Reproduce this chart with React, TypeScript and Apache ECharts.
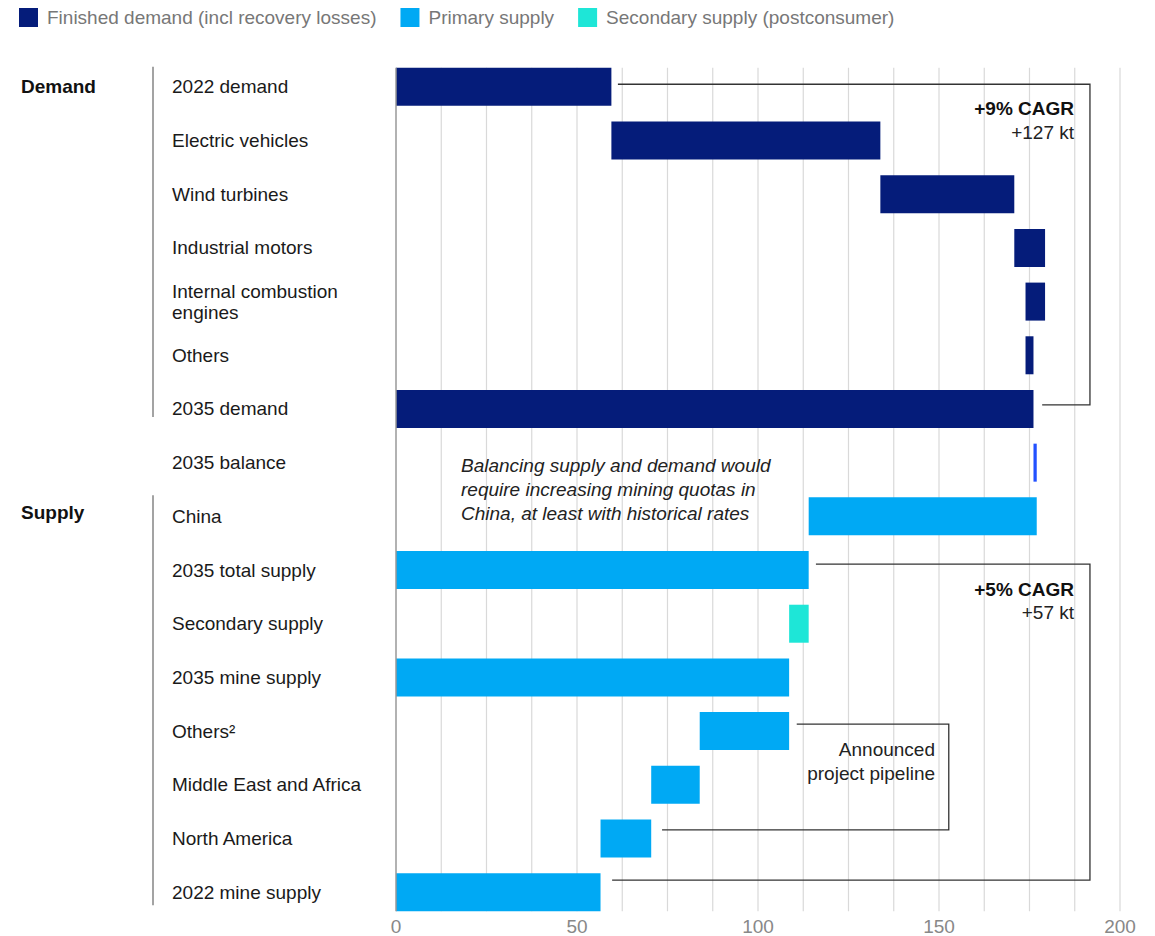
import React, { useEffect, useRef } from "react";
import * as echarts from "echarts";

const FONT = "'Liberation Sans', Arial, sans-serif";

const categories = [
  "2022 demand",
  "Electric vehicles",
  "Wind turbines",
  "Industrial motors",
  "Internal combustion\nengines",
  "Others",
  "2035 demand",
  "2035 balance",
  "China",
  "2035 total supply",
  "Secondary supply",
  "2035 mine supply",
  "Others²",
  "Middle East and Africa",
  "North America",
  "2022 mine supply",
];

// start and end of each waterfall bar (kt)
const barStart = [0, 59.5, 133.8, 170.8, 173.9, 173.9, 0, 176.1, 114.0, 0, 108.6, 0, 83.9, 70.5, 56.5, 0];
const barEnd = [59.5, 133.8, 170.8, 179.3, 179.3, 176.1, 176.1, 177.0, 177.0, 114.0, 114.0, 108.6, 108.6, 83.9, 70.5, 56.5];
const barKind = [
  "demand", "demand", "demand", "demand", "demand", "demand", "demand",
  "balance",
  "primary", "primary", "secondary", "primary", "primary", "primary", "primary", "primary",
];

const xTicks = [0, 50, 100, 150, 200];
const legendNames = [
  "Finished demand (incl recovery losses)",
  "Primary supply",
  "Secondary supply (postconsumer)",
];

const COLORS = {
  demand: "#051C7A",
  primary: "#00A9F4",
  secondary: "#1EE6D7",
  balance: "#2251FF",
};

export default function App() {
  const ref = useRef<HTMLDivElement>(null);

  useEffect(() => {
    if (!ref.current) return;
    const chart = echarts.init(ref.current, undefined, { renderer: "svg" });

    const seriesFor = (kinds: string[]) =>
      barKind.map((k, i) => {
        if (!kinds.includes(k)) return "-";
        const v = +(barEnd[i] - barStart[i]).toFixed(2);
        if (k === "balance") return { value: v, itemStyle: { color: COLORS.balance } };
        return v;
      });

    chart.setOption({
      animation: false,
      legend: {
        data: legendNames,
        left: 19,
        top: 8,
        padding: 0,
        icon: "rect",
        itemWidth: 19,
        itemHeight: 19,
        itemGap: 24,
        selectedMode: false,
        textStyle: { color: "#777", fontSize: 19, fontFamily: FONT, padding: [0, 0, 0, 4] },
      },
      grid: { left: 396, width: 724, top: 60, height: 861 },
      xAxis: {
        type: "value",
        min: xTicks[0],
        max: xTicks[xTicks.length - 1],
        interval: 50,
        axisLine: { show: false },
        axisTick: { show: false },
        splitLine: { show: false },
        axisLabel: { color: "#888", fontSize: 19, fontFamily: FONT, margin: -2 },
      },
      yAxis: {
        type: "category",
        data: categories,
        inverse: true,
        axisLine: { show: false },
        axisTick: { show: false },
        axisLabel: {
          align: "left",
          margin: 224,
          color: "#1a1a1a",
          fontSize: 19,
          lineHeight: 21,
          fontFamily: FONT,
        },
      },
      series: [
        {
          name: "base",
          type: "bar",
          stack: "wf",
          barWidth: 38,
          silent: true,
          itemStyle: { color: "transparent" },
          data: barStart,
        },
        {
          name: legendNames[0],
          type: "bar",
          stack: "wf",
          barWidth: 38,
          itemStyle: { color: COLORS.demand },
          data: seriesFor(["demand", "balance"]),
        },
        {
          name: legendNames[1],
          type: "bar",
          stack: "wf",
          barWidth: 38,
          itemStyle: { color: COLORS.primary },
          data: seriesFor(["primary"]),
        },
        {
          name: legendNames[2],
          type: "bar",
          stack: "wf",
          barWidth: 38,
          itemStyle: { color: COLORS.secondary },
          data: seriesFor(["secondary"]),
        },
      ],
    });

    const px = (xv: number, row: number): number[] =>
      chart.convertToPixel({ gridIndex: 0 }, [xv, row]) as number[];
    const rowY = (row: number) => px(0, row)[1];
    const xp = (xv: number) => px(xv, 0)[0];

    const graphics: any[] = [];
    const top = rowY(0) - 19;
    const bottom = rowY(categories.length - 1) + 19;

    // vertical gridlines every 12.5
    for (let v = 12.5; v <= 200.01; v += 12.5) {
      graphics.push({
        type: "line",
        silent: true,
        z: -10,
        shape: { x1: xp(v), y1: top, x2: xp(v), y2: bottom },
        style: { stroke: "#d9d9d9", lineWidth: 1.2 },
      });
    }
    // zero axis line
    graphics.push({
      type: "line",
      silent: true,
      z: 10,
      shape: { x1: xp(0), y1: top, x2: xp(0), y2: bottom },
      style: { stroke: "#999", lineWidth: 1.5 },
    });

    // section separators
    graphics.push({
      type: "line",
      shape: { x1: 153, y1: rowY(0) - 20, x2: 153, y2: rowY(6) + 8 },
      style: { stroke: "#666", lineWidth: 1.2 },
    });
    graphics.push({
      type: "line",
      shape: { x1: 153, y1: rowY(8) - 21, x2: 153, y2: rowY(15) + 13 },
      style: { stroke: "#666", lineWidth: 1.2 },
    });

    const txt = (
      text: string,
      x: number,
      y: number,
      opts: { align?: string; weight?: string; style?: string; color?: string; size?: number } = {}
    ) => ({
      type: "text",
      x,
      y,
      style: {
        text,
        fill: opts.color || "#1a1a1a",
        font: `${opts.style || "normal"} ${opts.weight || "normal"} ${opts.size || 19}px ${FONT}`,
        align: opts.align || "left",
        verticalAlign: "middle",
        textAlign: opts.align || "left",
        textVerticalAlign: "middle",
      },
    });

    graphics.push(txt("Demand", 21, rowY(0), { weight: "bold", color: "#111" }));
    graphics.push(txt("Supply", 21, rowY(8) - 4, { weight: "bold", color: "#111" }));

    // brackets
    const bracket = (pts: number[][]) => ({
      type: "polyline",
      shape: { points: pts },
      style: { stroke: "#333", lineWidth: 1.3, fill: null },
    });
    const yD0 = rowY(0) - 2.6;
    const yD1 = rowY(6) - 4;
    graphics.push(bracket([[xp(61.3), yD0], [xp(191.7), yD0], [xp(191.7), yD1], [xp(178.5), yD1]]));
    const yS0 = rowY(9) - 6;
    const yS1 = rowY(15) - 12;
    graphics.push(bracket([[xp(116), yS0], [xp(191.7), yS0], [xp(191.7), yS1], [xp(59.7), yS1]]));
    const yP0 = rowY(12) - 7;
    const yP1 = rowY(14) - 8.5;
    graphics.push(bracket([[xp(110.7), yP0], [xp(152.7), yP0], [xp(152.7), yP1], [xp(73.5), yP1]]));

    // CAGR labels
    const rx = xp(187.3);
    graphics.push(txt("+9% CAGR", rx, rowY(0) + 22, { align: "right", weight: "bold", color: "#111" }));
    graphics.push(txt("+127 kt", rx, rowY(0) + 46, { align: "right", color: "#222" }));
    graphics.push(txt("+5% CAGR", rx, rowY(9) + 19, { align: "right", weight: "bold", color: "#111" }));
    graphics.push(txt("+57 kt", rx, rowY(9) + 42, { align: "right", color: "#222" }));

    // pipeline label
    const ax = xp(148.9);
    graphics.push(txt("Announced", ax, rowY(12) + 18, { align: "right", color: "#222" }));
    graphics.push(txt("project pipeline", ax, rowY(12) + 42, { align: "right", color: "#222" }));

    // italic note
    const nx = 461;
    const ny = rowY(7) + 2.5;
    graphics.push(txt("Balancing supply and demand would", nx, ny, { style: "italic", color: "#222" }));
    graphics.push(txt("require increasing mining quotas in", nx, ny + 24, { style: "italic", color: "#222" }));
    graphics.push(txt("China, at least with historical rates", nx, ny + 48, { style: "italic", color: "#222" }));

    chart.setOption({ graphic: graphics });

    return () => chart.dispose();
  }, []);

  return (
    <div
      ref={ref}
      style={{ position: "fixed", left: 0, top: 0, width: 1155, height: 936, background: "#fff" }}
    />
  );
}
